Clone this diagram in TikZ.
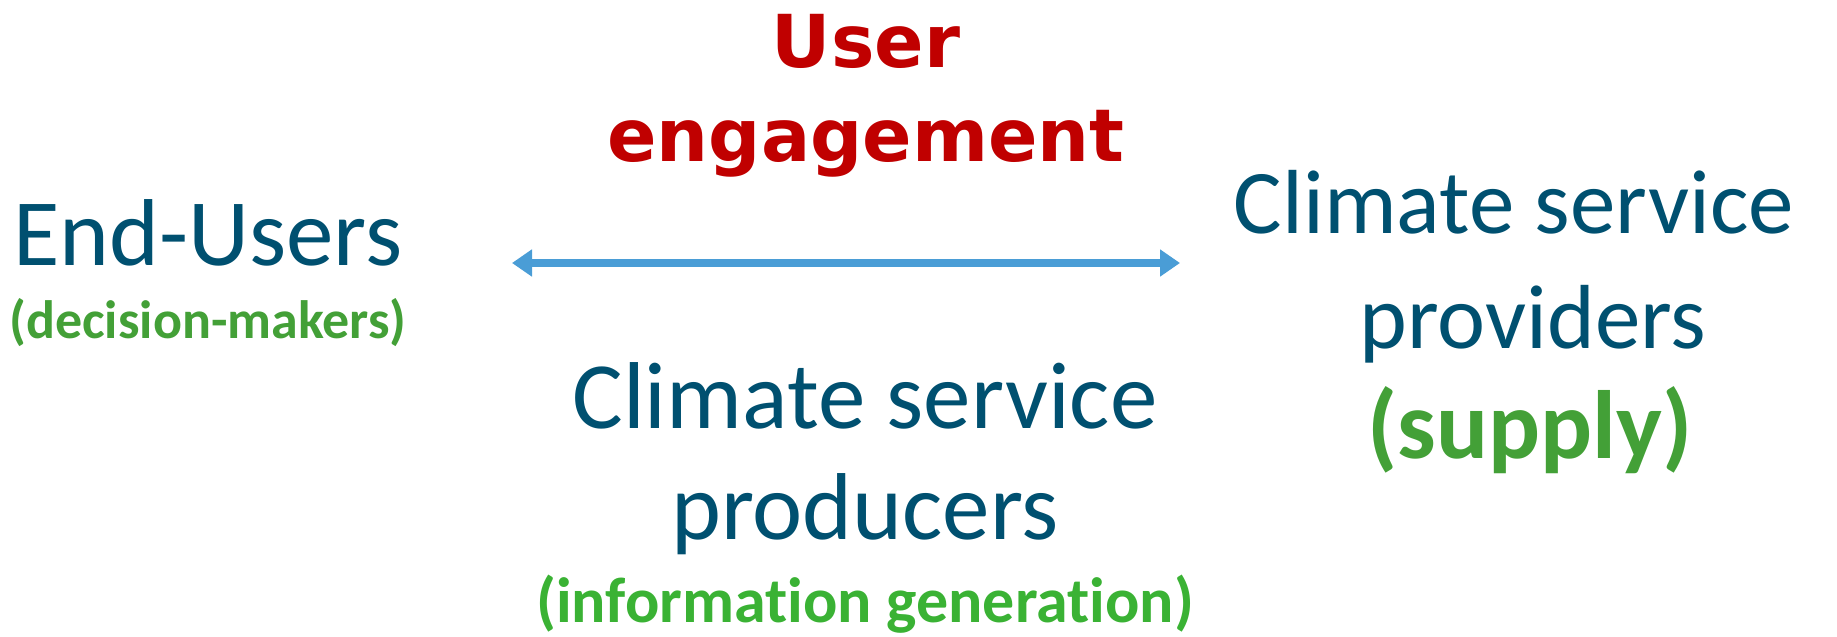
\documentclass[tikz,border=0pt]{standalone}
\usepackage{fontspec}
\setmainfont{Carlito}[Ligatures=NoCommon]
\newfontfamily\headfont{DejaVu Sans}
\usetikzlibrary{arrows.meta}
\definecolor{roleblue}{RGB}{0,80,112}
\definecolor{notegreen}{RGB}{67,160,55}
\definecolor{notebright}{RGB}{58,178,52}
\definecolor{headred}{RGB}{192,0,0}
\definecolor{linkblue}{RGB}{74,157,214}
\begin{document}
\begin{tikzpicture}[x=1pt,y=-1pt,
  txt/.style={inner sep=0pt, anchor=base},
  role/.style={txt, text=roleblue, font=\fontsize{#1}{#1}\selectfont},
  note/.style={txt, text=notegreen, font=\fontsize{#1}{#1}\selectfont\bfseries},
  brightnote/.style={txt, text=notebright, font=\fontsize{#1}{#1}\selectfont\bfseries},
  headline/.style={txt, text=headred, font=\fontsize{73}{88}\selectfont\headfont\bfseries},
  link/.style={linkblue, line width=8pt,
    {Triangle[length=20pt,width=26pt]}-{Triangle[length=20pt,width=26pt]}}
]
\useasboundingbox (0,0) rectangle (1837,637);

% heading
\node[headline] (head1) at (866,67) {User};
\node[headline] (head2) at (866,161) {engagement};

% left: end users
\node[role=95] (users) at (208,265) {End-Users};
\node[note=54] (usersnote) at (208,338) {(decision-makers)};

% right: providers
\node[role=91] (prov1) at (1514,233) {Climate service};
\node[role=91] (prov2) at (1533,348) {providers};
\node[note=97] (provnote) at (1530,458) {(supply)};

% middle: producers
\node[role=95] (prod1) at (865,428) {Climate service};
\node[role=95] (prod2) at (865,539) {producers};
\node[brightnote=64] (prodnote) at (865,622) {(information generation)};

% engagement link
\coordinate (linkL) at (512,263);
\coordinate (linkR) at (1180,263);
\draw[link] (linkL) -- (linkR);
\end{tikzpicture}
\end{document}
